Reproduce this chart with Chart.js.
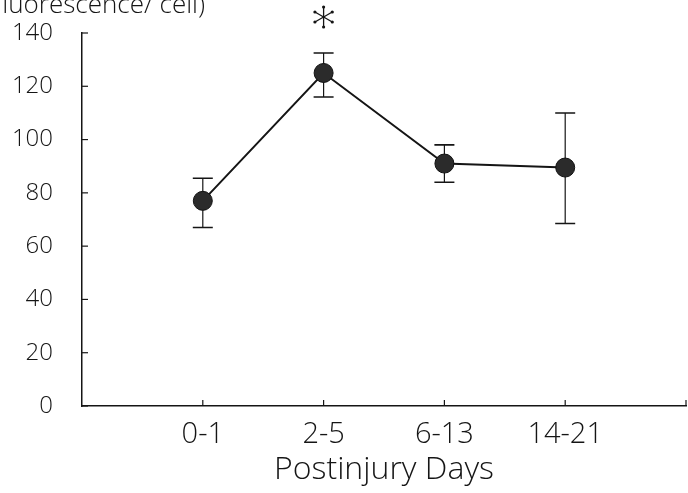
<!DOCTYPE html>
<html>
<head>
<meta charset="utf-8">
<script src="https://cdn.jsdelivr.net/npm/chart.js@4/dist/chart.umd.min.js"></script>
<style>
  html, body { margin: 0; padding: 0; background: #fff; }
  #wrap { width: 688px; height: 493px; }
</style>
</head>
<body>
<div id="wrap"><canvas id="c" width="688" height="493"></canvas></div>
<script>
// ---- Data ----
const categories = ['0-1', '2-5', '6-13', '14-21'];
const meanValues = [77, 125, 91, 89.5];
const errLow = [67, 116, 84, 68.5];
const errHigh = [85.5, 132.5, 98, 110];
const significant = [false, true, false, false];
const asteriskValue = 146;
const yTicks = [0, 20, 40, 60, 80, 100, 120, 140];
const xTickValues = [1, 2, 3, 4, 5];
const yLabelText = '(Relative fluorescence/ cell)';
const xTitleText = 'Postinjury Days';

const FONT = '"Open Sans", "Liberation Sans", sans-serif';
const INK = '#151515';

const points = categories.map((c, i) => ({ x: i + 1, y: meanValues[i] }));

const decorPlugin = {
  id: 'decor',
  beforeDatasetsDraw(chart) {
    const { ctx, scales: { x, y } } = chart;
    ctx.save();
    ctx.strokeStyle = INK;
    ctx.lineWidth = 1.2;
    yTicks.forEach(v => {
      const py = y.getPixelForValue(v);
      ctx.beginPath();
      ctx.moveTo(x.left, py);
      ctx.lineTo(x.left + 6, py);
      ctx.stroke();
    });
    xTickValues.forEach(v => {
      const px = x.getPixelForValue(v);
      ctx.beginPath();
      ctx.moveTo(px, y.bottom);
      ctx.lineTo(px, y.bottom - 6);
      ctx.stroke();
    });
    categories.forEach((c, i) => {
      const px = x.getPixelForValue(i + 1);
      const pl = y.getPixelForValue(errLow[i]);
      const ph = y.getPixelForValue(errHigh[i]);
      ctx.lineWidth = 1.2;
      ctx.beginPath();
      ctx.moveTo(px, pl);
      ctx.lineTo(px, ph);
      ctx.stroke();
      ctx.lineWidth = 1.6;
      ctx.beginPath();
      ctx.moveTo(px - 10, pl); ctx.lineTo(px + 10, pl);
      ctx.moveTo(px - 10, ph); ctx.lineTo(px + 10, ph);
      ctx.stroke();
    });
    ctx.restore();
  },
  afterDraw(chart) {
    const { ctx, scales: { x, y } } = chart;
    ctx.save();
    categories.forEach((c, i) => {
      if (!significant[i]) return;
      const cx = x.getPixelForValue(i + 1);
      const cy = y.getPixelForValue(asteriskValue);
      const r = 10;
      ctx.strokeStyle = INK;
      ctx.fillStyle = INK;
      ctx.lineWidth = 1.3;
      [90, 30, 150].forEach(a => {
        const rad = a * Math.PI / 180;
        const dx = Math.cos(rad) * r, dy = Math.sin(rad) * r;
        ctx.beginPath();
        ctx.moveTo(cx - dx, cy - dy);
        ctx.lineTo(cx + dx, cy + dy);
        ctx.stroke();
        [[cx - dx, cy - dy], [cx + dx, cy + dy]].forEach(([px, py]) => {
          ctx.beginPath();
          ctx.arc(px, py, 1.6, 0, Math.PI * 2);
          ctx.fill();
        });
      });
    });
    ctx.fillStyle = INK;
    ctx.font = '300 26px ' + FONT;
    ctx.textAlign = 'right';
    ctx.textBaseline = 'alphabetic';
    ctx.fillText(yLabelText, 205, 13);
    ctx.restore();
  }
};

new Chart(document.getElementById('c'), {
  type: 'line',
  data: {
    datasets: [{
      data: points,
      borderColor: INK,
      borderWidth: 2,
      pointRadius: 9.5,
      pointBackgroundColor: '#2b2b2b',
      pointBorderColor: '#111',
      pointBorderWidth: 1,
      tension: 0
    }]
  },
  options: {
    responsive: false,
    animation: false,
    devicePixelRatio: 1,
    layout: { autoPadding: false, padding: { top: 33, right: 2, left: 0, bottom: 0 } },
    plugins: { legend: { display: false }, tooltip: { enabled: false } },
    scales: {
      x: {
        type: 'linear',
        min: 0, max: 5,
        afterBuildTicks(scale) { scale.ticks = [0, 1, 2, 3, 4, 5].map(v => ({ value: v })); },
        afterFit(scale) { scale.height = 87; scale.paddingLeft = 0; scale.paddingRight = 0; },
        grid: { display: false, drawTicks: false },
        border: { display: true, color: INK, width: 1.5 },
        ticks: {
          autoSkip: false,
          maxRotation: 0,
          padding: 11,
          color: INK,
          font: { family: FONT, size: 29, weight: '300' },
          callback: v => categories[v - 1] !== undefined ? categories[v - 1] : ''
        },
        title: {
          display: true,
          text: xTitleText,
          color: INK,
          font: { family: FONT, size: 32, weight: '300' },
          padding: { top: 0, bottom: 4 }
        }
      },
      y: {
        min: 0, max: 140,
        afterBuildTicks(scale) { scale.ticks = yTicks.map(v => ({ value: v })); },
        afterFit(scale) { scale.width = 82; scale.paddingTop = 0; scale.paddingBottom = 0; },
        grid: { display: false, drawTicks: false },
        border: { display: true, color: INK, width: 1.5 },
        ticks: {
          padding: 29,
          color: INK,
          font: { family: FONT, size: 24, weight: '300' }
        }
      }
    }
  },
  plugins: [decorPlugin]
});
</script>
</body>
</html>
